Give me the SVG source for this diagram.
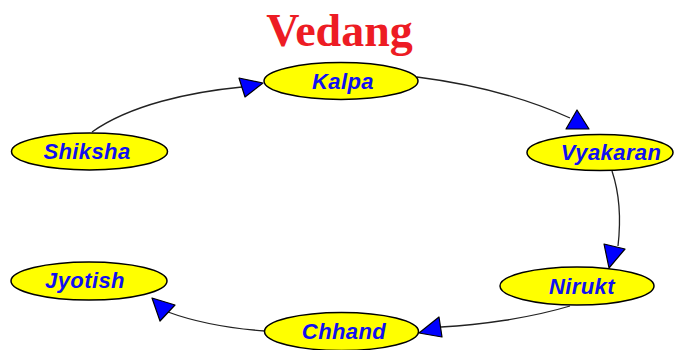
<svg xmlns="http://www.w3.org/2000/svg" width="678" height="350" viewBox="0 0 678 350">
<style>
.title{font-family:"Liberation Serif","Times New Roman",serif;font-weight:bold;font-size:46px;fill:#ed1c24;text-anchor:middle}
.node ellipse{fill:#ffff00;stroke:#000;stroke-width:1.5}
.node text{font-family:"Liberation Sans",Arial,sans-serif;font-weight:bold;font-style:italic;font-size:22px;letter-spacing:0.4px;fill:#1010f0;text-anchor:middle}
.edge{fill:none;stroke:#222;stroke-width:1.3}
.head{fill:#0000ff;stroke:#000;stroke-width:1.2;stroke-linejoin:round}
</style>
<rect width="678" height="350" fill="#fff"/>
<text class="title" x="339.5" y="46">Vedang</text>
<g id="connectors">
<path class="edge" d="M92,132 C130,105 190,92 242,87"/>
<polygon class="head" points="263,83 239,78 245,97"/>
<path class="edge" d="M417,77 C480,85 530,100 570,118"/>
<polygon class="head" points="577,110 566,129 589,129"/>
<path class="edge" d="M612,171 C620,195 621,220 618,246"/>
<polygon class="head" points="609,268 604,244 625,249"/>
<path class="edge" d="M570,306 C530,318 480,325 441,327"/>
<polygon class="head" points="419,333 439,317 442,337"/>
<path class="edge" d="M265,331 C225,328 195,322 168,312"/>
<polygon class="head" points="152,298 175,305 160,321"/>
</g>
<g id="node-kalpa" class="node"><ellipse cx="341" cy="81" rx="77" ry="18.5"/><text x="343" y="89">Kalpa</text></g>
<g id="node-shiksha" class="node"><ellipse cx="89.5" cy="151.5" rx="78" ry="18.5"/><text x="87" y="158.5">Shiksha</text></g>
<g id="node-vyakaran" class="node"><ellipse cx="600" cy="152.5" rx="73" ry="18"/><text x="611" y="160">Vyakaran</text></g>
<g id="node-nirukt" class="node"><ellipse cx="577" cy="286" rx="77" ry="19"/><text x="582" y="294">Nirukt</text></g>
<g id="node-chhand" class="node"><ellipse cx="341.5" cy="331.5" rx="77" ry="19"/><text x="344" y="339">Chhand</text></g>
<g id="node-jyotish" class="node"><ellipse cx="89" cy="281" rx="78" ry="19"/><text x="85" y="288">Jyotish</text></g>
</svg>
